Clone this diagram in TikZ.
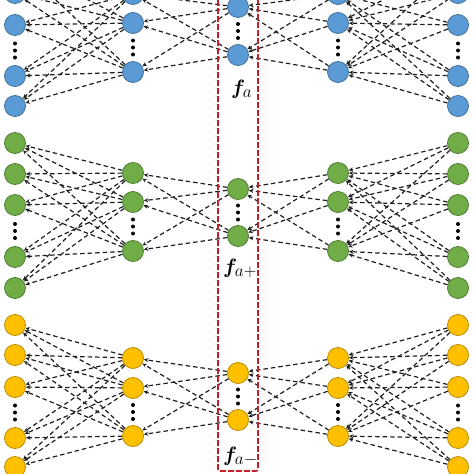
\documentclass[tikz,border=0pt]{standalone}
\usepackage{amsmath,bm}
\usetikzlibrary{arrows.meta,backgrounds}
\definecolor{nblue}{RGB}{91,155,213}
\definecolor{nblueb}{RGB}{65,113,156}
\definecolor{ngreen}{RGB}{112,173,71}
\definecolor{ngreenb}{RGB}{80,126,50}
\definecolor{nyellow}{RGB}{255,192,0}
\definecolor{nyellowb}{RGB}{188,140,0}
\definecolor{boxred}{RGB}{200,30,40}
\definecolor{edgegray}{RGB}{30,30,30}
\newcommand{\subsz}[1]{\mbox{\fontsize{16}{18}\selectfont$#1$}}
\tikzset{
 neuron/.style={circle,minimum size=21pt,inner sep=0pt,line width=0.8pt,fill=#1,draw=#1b},
 edge/.style={edgegray,line width=1.2pt,dash pattern=on 4.5pt off 3pt,-{Stealth[length=4.5pt,width=4pt]}},
 vdot/.style={fill=black},
 labelf/.style={font=\fontsize{20}{22}\selectfont,inner sep=0pt},
 redbox/.style={draw=boxred,line width=1.7pt,dash pattern=on 6pt off 2pt,rounded corners=2pt}
}
\begin{document}
\begin{tikzpicture}[x=1pt,y=-1pt]
\useasboundingbox (0,0) rectangle (474,474);
\foreach \g/\col/\oa/\ob/\oc/\od/\oe/\ha/\hb/\hc/\ca/\cb in {
 B/nblue/-38/-7/25/76/106/-6/23/72/7/55,
 G/ngreen/143/174/205/257/288/173/202/251/189/236,
 Y/nyellow/325/355/387/438/467/358/388/436/373/420}{
 \foreach \s/\xo/\xh in {L/15/133,R/458/338}{
  \node[neuron=\col] (\g\s o1) at (\xo,\oa) {};
  \node[neuron=\col] (\g\s o2) at (\xo,\ob) {};
  \node[neuron=\col] (\g\s o3) at (\xo,\oc) {};
  \node[neuron=\col] (\g\s o4) at (\xo,\od) {};
  \node[neuron=\col] (\g\s o5) at (\xo,\oe) {};
  \node[neuron=\col] (\g\s h1) at (\xh,\ha) {};
  \node[neuron=\col] (\g\s h2) at (\xh,\hb) {};
  \node[neuron=\col] (\g\s h3) at (\xh,\hc) {};
  \foreach \d in {-7,0,7}{
   \fill[vdot] (\xo,{(\oc+\od)/2+\d}) circle (2pt);
   \fill[vdot] (\xh,{(\hb+\hc)/2+\d}) circle (2pt);
  }
 }
 \node[neuron=\col] (\g c1) at (238,\ca) {};
 \node[neuron=\col] (\g c2) at (238,\cb) {};
 \foreach \d in {-7,0,7}{
  \fill[vdot] (238,{(\ca+\cb)/2+\d}) circle (2pt);
 }
 \begin{scope}[on background layer]
  \foreach \i in {1,...,5}{
   \foreach \j in {1,2,3}{
    \draw[edge] (\g Lh\j) -- (\g Lo\i);
    \draw[edge] (\g Ro\i) -- (\g Rh\j);
   }
  }
  \foreach \j in {1,2,3}{
   \foreach \k in {1,2}{
    \draw[edge] (\g c\k) -- (\g Lh\j);
    \draw[edge] (\g Rh\j) -- (\g c\k);
   }
  }
 \end{scope}
}
\node[labelf,anchor=base west] (fa) at (231,94) {$\boldsymbol{f}_{\subsz{a}}$};
\node[labelf,anchor=base west] (fap) at (223,273) {$\boldsymbol{f}_{\subsz{a+}}$};
\node[labelf,anchor=base west] (fam) at (223,461) {$\boldsymbol{f}_{\subsz{a-}}$};
\draw[redbox] (218,-10) rectangle (258,471);
\end{tikzpicture}
\end{document}
